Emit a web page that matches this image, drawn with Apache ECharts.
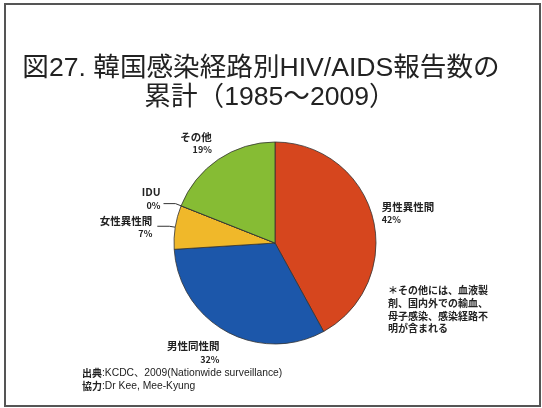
<!DOCTYPE html>
<html><head><meta charset="utf-8">
<script src="https://cdn.jsdelivr.net/npm/echarts@6/dist/echarts.min.js"></script>
<style>html,body{margin:0;padding:0;background:#fff}#c{width:542px;height:408px}</style>
</head><body><div id="c"></div>
<script>
const categories = ['男性異性間', '男性同性間', '女性異性間', 'IDU', 'その他'];
const values = [42, 32, 7, 0, 19];
const colors = ['#D6461E', '#1C57AA', '#F0B82A', '#888888', '#86BC34'];
const titleLines = ['図27. 韓国感染経路別HIV/AIDS報告数の', '累計（1985～2009）'];
const noteLines = ['＊その他には、血液製', '剤、国内外での輸血、', '母子感染、感染経路不', '明が含まれる'];
const sourceLines = ['{b|出典}:KCDC、2009(Nationwide surveillance)', '{b|協力}:Dr Kee, Mee-Kyung'];

const FONT = '"Noto Sans CJK JP", "Liberation Sans", sans-serif';
const TFONT = '"Liberation Sans", "Noto Sans CJK JP", sans-serif';
const chart = echarts.init(document.getElementById('c'));

const showLine = {'IDU': true, '女性異性間': true};
const labelShift = {
  '男性異性間': [-14, -3],
  '男性同性間': [13, 16],
  '女性異性間': [0, 1],
  'IDU': [2, -5],
  'その他': [14, -11]
};

chart.setOption({
  animation: false,
  graphic: [
    {type: 'rect', shape: {x: 5, y: 4, width: 535, height: 402}, style: {fill: 'none', stroke: '#555', lineWidth: 2}, silent: true},
    {type: 'text', x: 261, y: 69, style: {text: titleLines[0], font: '26.6px ' + TFONT, fill: '#222', align: 'center', verticalAlign: 'middle'}},
    {type: 'text', x: 270, y: 98, style: {text: titleLines[1], font: '26.6px ' + TFONT, fill: '#222', align: 'center', verticalAlign: 'middle'}},
    {type: 'text', left: 388, top: 284, style: {text: noteLines.join('\n'), font: 'bold 10px ' + FONT, fill: '#222', lineHeight: 12.7}},
    {type: 'text', left: 82, top: 367, style: {
      text: sourceLines.join('\n'), fill: '#222', lineHeight: 12.5,
      font: '10.3px "Liberation Sans", ' + FONT,
      rich: {b: {fontWeight: 'bold', fontFamily: FONT, fontSize: 10, fill: '#222'}}
    }}
  ],
  series: [{
    type: 'pie',
    center: [275, 243],
    radius: 101,
    startAngle: 90,
    clockwise: true,
    avoidLabelOverlap: false,
    minShowLabelAngle: 0,
    itemStyle: {borderColor: '#333', borderWidth: 0.8},
    label: {
      position: 'outside',
      formatter: '{b}\n{p|{d}%}',
      fontFamily: FONT, fontSize: 10.5, fontWeight: 'bold', color: '#222', lineHeight: 13,
      align: 'center',
      rich: {p: {fontFamily: FONT, fontSize: 9, fontWeight: 'bold', color: '#222', lineHeight: 13}}
    },
    labelLine: {show: true, length: 6, length2: 12, lineStyle: {color: '#333', width: 1}},
    data: categories.map((c, i) => ({
      name: c, value: values[i],
      itemStyle: {color: colors[i]},
      labelLine: {show: !!showLine[c]}
    })),
    labelLayout: function (p) {
      const s = labelShift[categories[p.dataIndex]] || [0, 0];
      return {dx: s[0], dy: s[1]};
    }
  }]
});
</script></body></html>
